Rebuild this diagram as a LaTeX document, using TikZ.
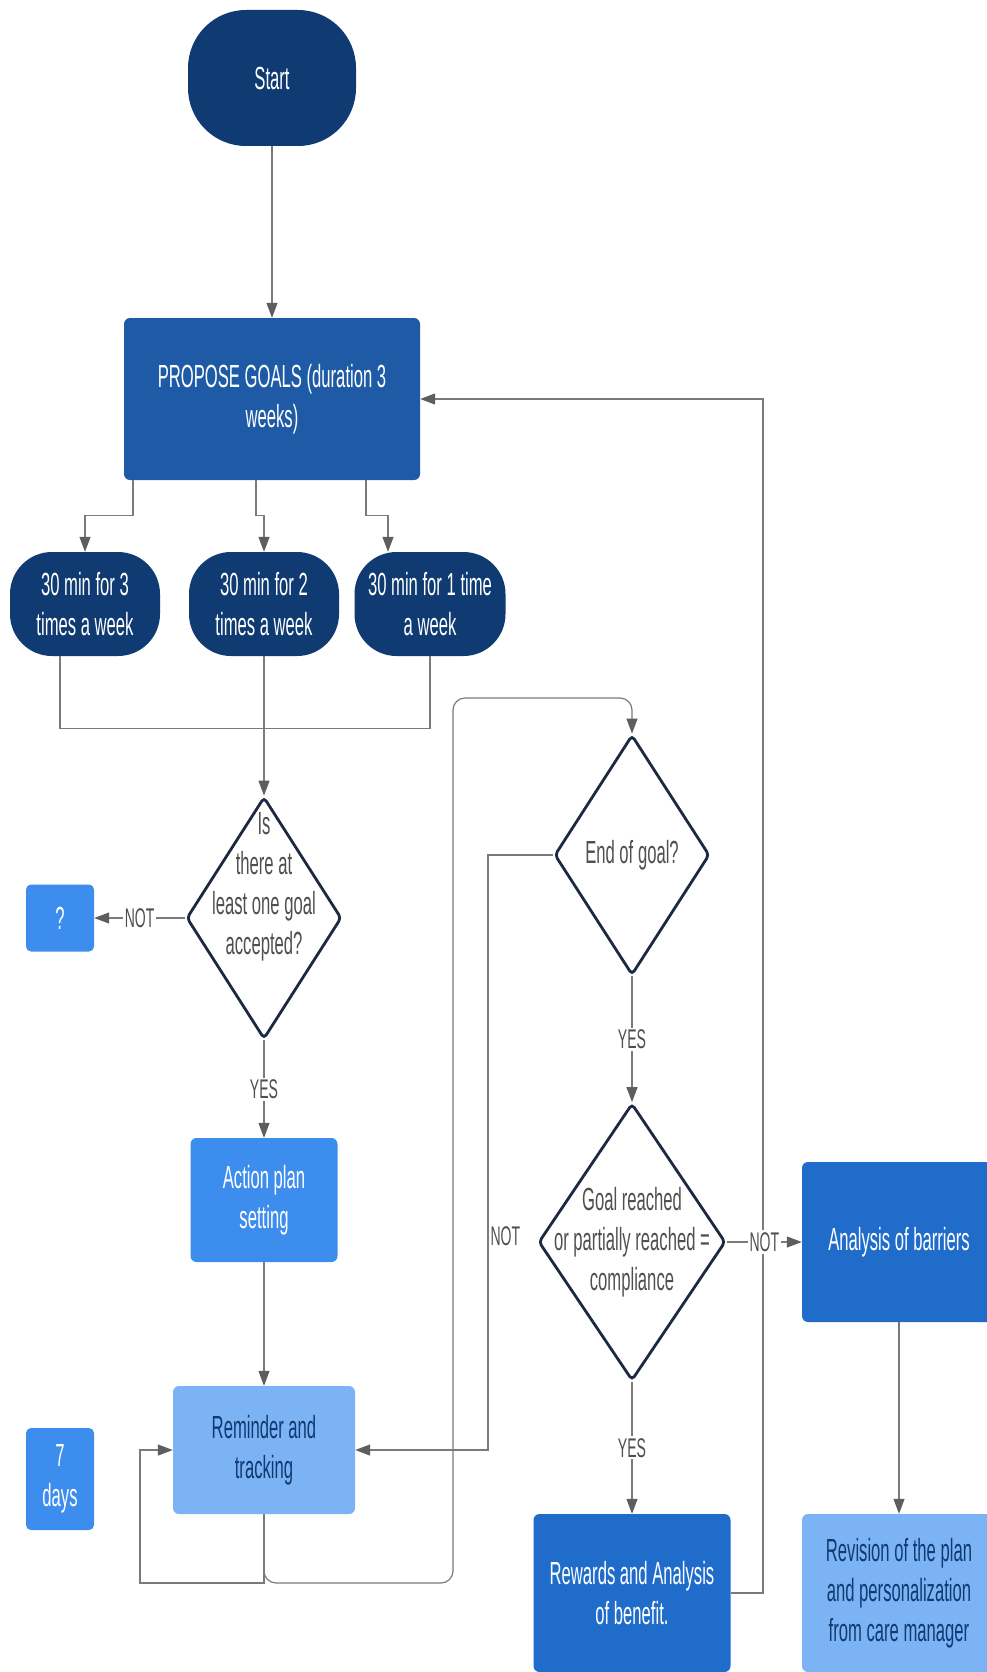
\documentclass[tikz,border=0pt]{standalone}
\usepackage{fontspec}
\setmainfont{Liberation Sans}[FakeStretch=0.52]
\usetikzlibrary{arrows.meta,shapes.geometric}
\definecolor{navy}{HTML}{0F3A72}
\definecolor{goalblue}{HTML}{1F5AA6}
\definecolor{midblue}{HTML}{1F6CCB}
\definecolor{brightblue}{HTML}{3D8DEE}
\definecolor{paleblue}{HTML}{7BB3F5}
\definecolor{rim}{HTML}{1C2940}
\definecolor{wire}{HTML}{7A7A7A}
\definecolor{tip}{HTML}{5E5E5E}
\definecolor{ink}{HTML}{505050}

\begin{document}
\begin{tikzpicture}[x=1pt,y=-1pt,
  every node/.style={font=\fontsize{32}{40}\selectfont,align=center},
  box/.style={rounded corners=6pt,text=white},
  pill/.style={rounded corners=42pt,fill=navy,text=white},
  dec/.style={diamond,draw=rim,line width=2.8pt,rounded corners=4pt,fill=white,inner sep=0pt},
  line/.style={draw=wire,line width=1.2pt},
  arr/.style={line,-{Triangle[length=15pt,width=11pt,color=tip]}},
  lbl/.style={font=\fontsize{27}{30}\selectfont,text=ink,fill=white,inner sep=2pt}]
\useasboundingbox (0,0) rectangle (987,1672);
\clip (0,0) rectangle (987,1672);
\node[pill,rounded corners=58pt,minimum width=168pt,minimum height=136pt] (st) at (272,78){Start};
\node[box,fill=goalblue,minimum width=296pt,minimum height=162pt] (pg) at (272,399){PROPOSE GOALS (duration 3\\weeks)};
\node[pill,minimum width=150pt,minimum height=104pt] (o3) at (85,604){30 min for 3\\times a week};
\node[pill,minimum width=150pt,minimum height=104pt] (o2) at (264,604){30 min for 2\\times a week};
\node[pill,minimum width=151pt,minimum height=104pt] (o1) at (430,604){30 min for 1 time\\a week};
\node[dec,minimum width=155pt,minimum height=242pt,label={[text=ink,yshift=31pt]center:{Is\\there at\\least one goal\\accepted?}}] (acc) at (264,918){};
\node[box,fill=brightblue,minimum width=68pt,minimum height=67pt,rounded corners=5pt] (q) at (60,918){?};
\node[box,fill=brightblue,minimum width=147pt,minimum height=124pt] (ap) at (264,1200){Action plan\\setting};
\node[box,fill=paleblue,text=navy,minimum width=182pt,minimum height=128pt] (rt) at (264,1450){Reminder and\\tracking};
\node[box,fill=brightblue,minimum width=68pt,minimum height=102pt,rounded corners=5pt] (dy) at (60,1479){7\\days};
\node[dec,minimum width=155pt,minimum height=240pt,label={[text=ink]center:{End of goal?}}] (eg) at (632,855){};
\node[dec,minimum width=187pt,minimum height=277pt,label={[text=ink]center:{Goal reached\\or partially reached =\\compliance}}] (gr) at (632,1242){};
\node[box,fill=midblue,minimum width=194pt,minimum height=160pt] (ab) at (899,1242){Analysis of barriers};
\node[box,fill=midblue,minimum width=197pt,minimum height=158pt] (rw) at (632,1593){Rewards and Analysis\\of benefit.};
\node[box,fill=paleblue,text=navy,minimum width=194pt,minimum height=158pt] (rv) at (899,1593){Revision of the plan\\and personalization\\from care manager};
\draw[arr] (st)--(pg);
\draw[arr] ([xshift=-139pt]pg.south) -- ++(0,35) -| (o3.north);
\draw[arr] ([xshift=-16pt]pg.south) -- ++(0,35) -| (o2.north);
\draw[arr] ([xshift=94pt]pg.south) -- ++(0,35) -| ([xshift=-42pt]o1.north);
\draw[line] ([xshift=-25pt]o3.south) -- ++(0,72) -| (o1.south);
\draw[arr] (o2)--(acc);
\draw[arr] (acc)--(q) node[lbl,midway]{NOT};
\draw[arr] (acc)--(ap) node[lbl,midway]{YES};
\draw[arr] (ap)--(rt);
\draw[arr] (rt.south) |- (140,1583) |- (rt.west);
\draw[arr,rounded corners=12pt] (rt.south) |- (453,1583) -- (453,698) -| (eg.north);
\draw[arr] (eg.west) -| node[lbl,pos=.82,right,fill=none]{NOT} (488,1450) -- (rt.east);
\draw[arr] (eg)--(gr) node[lbl,midway]{YES};
\draw[arr] (rw.east) -| (763,399) -- (pg.east);
\draw[arr] (gr)--(ab) node[lbl,midway]{NOT};
\draw[arr] (gr)--(rw) node[lbl,midway]{YES};
\draw[arr] (ab)--(rv);
\end{tikzpicture}
\end{document}
